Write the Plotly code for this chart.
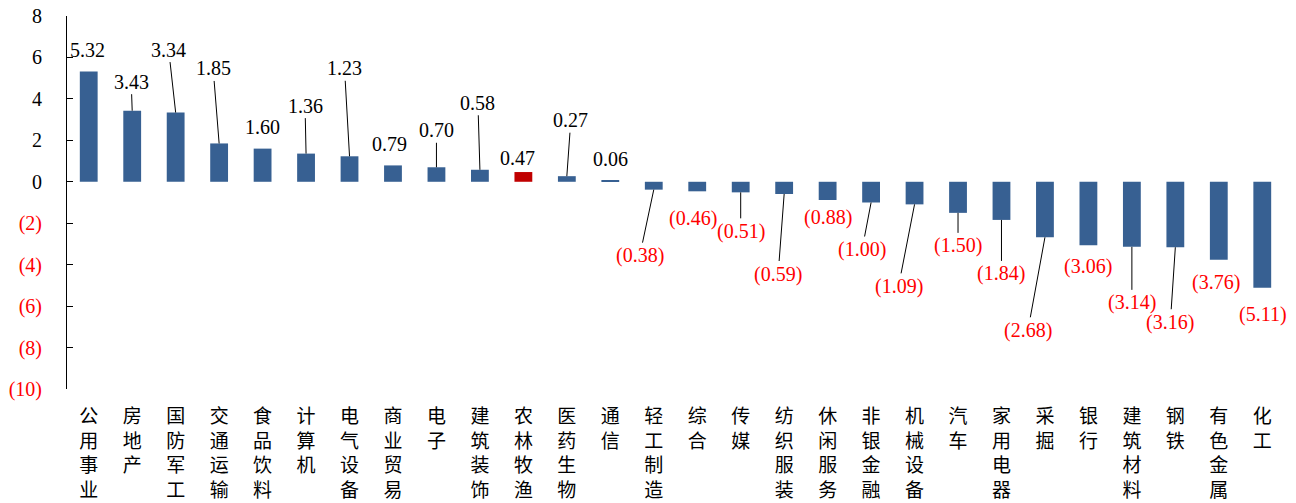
import plotly.graph_objects as go

# Sector returns (%)
sectors = ["公用事业", "房地产", "国防军工", "交通运输", "食品饮料", "计算机", "电气设备",
           "商业贸易", "电子", "建筑装饰", "农林牧渔", "医药生物", "通信", "轻工制造",
           "综合", "传媒", "纺织服装", "休闲服务", "非银金融", "机械设备", "汽车",
           "家用电器", "采掘", "银行", "建筑材料", "钢铁", "有色金属", "化工"]
returns = [5.32, 3.43, 3.34, 1.85, 1.60, 1.36, 1.23, 0.79, 0.70, 0.58, 0.47, 0.27, 0.06,
           -0.38, -0.46, -0.51, -0.59, -0.88, -1.00, -1.09, -1.50, -1.84, -2.68, -3.06,
           -3.14, -3.16, -3.76, -5.11]
highlight = "农林牧渔"

y_ticks = [8, 6, 4, 2, 0, -2, -4, -6, -8, -10]

# Label placement: pixel offset of the label centre from the bar end, and whether a leader line is drawn
label_layout = [(-1, -22, False), (-1, -29, True), (-7, -63, True), (-6, -75, True),
                (0, -22, False), (-1, -48, True), (-5, -88, True), (-3, -21, False),
                (0, -37, True), (-2, -67, True), (-6, -14, False), (4, -56, True),
                (0, -22, False), (-14, 66, True), (-4, 27, False), (0, 39, True),
                (-6, 80, True), (0, 17, False), (-9, 47, True), (-16, 82, True),
                (0, 33, True), (0, 54, True), (-17, 93, True), (0, 21, False),
                (0, 56, True), (-5, 75, True), (-3, 23, False), (1, 27, False)]

BLUE = "#376092"
RED_BAR = "#C00000"
RED_TXT = "#FF0000"
SERIF = "Liberation Serif, Times New Roman, serif"
CJK = "Liberation Serif, Noto Sans CJK SC, serif"


def fmt(v):
    return f"{v:.2f}" if v >= 0 else f"({abs(v):.2f})"


def tick_label(v):
    return str(v) if v >= 0 else f'<span style="color:{RED_TXT}">({abs(v)})</span>'


n = len(sectors)
xs = list(range(n))
colors = [RED_BAR if s == highlight else BLUE for s in sectors]

fig = go.Figure()
fig.add_trace(go.Bar(x=xs, y=returns, marker=dict(color=colors, line=dict(width=0)),
                     hoverinfo="skip", showlegend=False))

annotations = []
for i, (v, (dx, dy, leader)) in enumerate(zip(returns, label_layout)):
    color = "black" if v >= 0 else RED_TXT
    if leader:
        annotations.append(dict(x=i, y=v, xref="x", yref="y", text=fmt(v),
                                showarrow=True, arrowhead=0, arrowwidth=1,
                                arrowcolor="black", standoff=0, ax=dx, ay=dy,
                                axref="pixel", ayref="pixel",
                                font=dict(family=SERIF, size=20, color=color)))
    else:
        annotations.append(dict(x=i, y=v, xref="x", yref="y", text=fmt(v),
                                showarrow=False, xshift=dx, yshift=-dy,
                                font=dict(family=SERIF, size=20, color=color)))

y_min, y_max = min(y_ticks), max(y_ticks)

fig.update_layout(
    width=1296, height=503,
    margin=dict(l=67, r=12, t=16, b=114),
    paper_bgcolor="white", plot_bgcolor="white",
    bargap=0.59,
    annotations=annotations,
    xaxis=dict(range=[-0.5, n - 0.5], tickmode="array", tickvals=xs,
               ticktext=["<br>".join(s) for s in sectors],
               showline=False, showgrid=False, zeroline=False, ticks="",
               tickfont=dict(family=CJK, size=19, color="black"),
               ticklabelstandoff=14, automargin=False),
    xaxis2=dict(overlaying="x", anchor="free", side="bottom",
                position=(0 - y_min) / (y_max - y_min),
                range=[-0.5, n - 0.5], tickmode="array",
                tickvals=[i - 0.5 for i in range(n + 1)],
                ticks="inside", ticklen=7, tickcolor="black", tickwidth=1,
                showline=True, linecolor="black", linewidth=1,
                showticklabels=False, showgrid=False, zeroline=False,
                automargin=False),
    yaxis=dict(range=[y_min, y_max], tickmode="array", tickvals=y_ticks,
               ticktext=[tick_label(v) for v in y_ticks],
               ticks="inside", ticklen=6, tickcolor="black",
               showline=True, linecolor="black", linewidth=1,
               showgrid=False, zeroline=False,
               tickfont=dict(family=SERIF, size=20, color="black"),
               ticklabelstandoff=20, automargin=False),
)

fig.write_html("out.html")
